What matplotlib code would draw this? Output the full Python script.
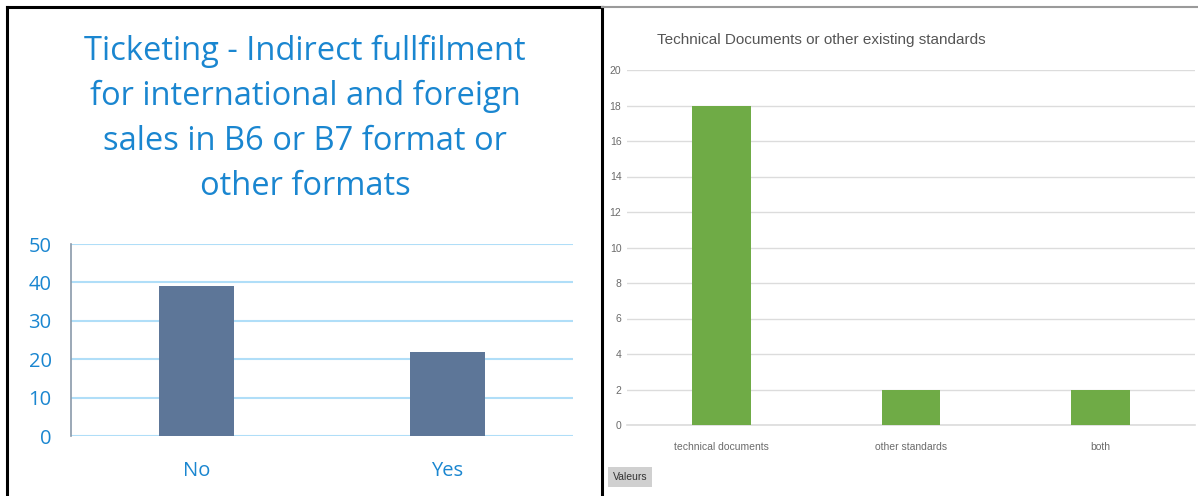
import matplotlib
matplotlib.use("Agg")
import matplotlib.pyplot as plt
from matplotlib.lines import Line2D

# Data
left_title = "Ticketing - Indirect fullfilment\nfor international and foreign\nsales in B6 or B7 format or\nother formats"
left_categories = ["No", "Yes"]
left_values = [39, 22]
left_yticks = [0, 10, 20, 30, 40, 50]

right_title = "Technical Documents or other existing standards"
right_categories = ["technical documents", "other standards", "both"]
right_values = [18, 2, 2]
right_yticks = [0, 2, 4, 6, 8, 10, 12, 14, 16, 18, 20]

W, H = 1198, 496
fig = plt.figure(figsize=(W / 100, H / 100), dpi=100)

def ax_rect(x0, y0, x1, y1):
    return [x0 / W, 1 - y1 / H, (x1 - x0) / W, (y1 - y0) / H]

font_main = ["Open Sans", "DejaVu Sans"]
font_narrow = ["Liberation Sans Narrow", "Liberation Sans", "DejaVu Sans"]

# ---------- Left chart ----------
blue_txt = "#1a86d0"
axL = fig.add_axes(ax_rect(71, 244, 573, 436))
xl = range(len(left_categories))
axL.bar(xl, left_values, width=0.3, color="#5d7698", zorder=3)
axL.set_xlim(-0.5, len(left_categories) - 0.5)
axL.set_ylim(0, 50)
axL.set_yticks(left_yticks)
axL.set_xticks(list(xl))
axL.set_xticklabels(left_categories, fontfamily=font_main, fontsize=14.5, color=blue_txt)
axL.set_yticklabels([str(t) for t in left_yticks], fontfamily=font_main, fontsize=14.5, color=blue_txt)
axL.tick_params(axis="both", length=0)
axL.tick_params(axis="x", pad=18)
axL.tick_params(axis="y", pad=14)
axL.grid(axis="y", color="#b0def8", linewidth=1.5, zorder=0)
for s in ["top", "right", "bottom"]:
    axL.spines[s].set_visible(False)
axL.spines["left"].set_color("#8a9aaa")
axL.spines["left"].set_linewidth(1.2)
axL.set_facecolor("none")

fig.text(305 / W, 1 - 119 / H, left_title, ha="center", va="center",
         fontfamily=font_main, fontsize=23.5, color=blue_txt, linespacing=1.48)

# ---------- Right chart ----------
gray_txt = "#6b6b6b"
axR = fig.add_axes(ax_rect(627, 70, 1195, 425))
xr = range(len(right_categories))
axR.bar(xr, right_values, width=0.31, color="#6fab46", zorder=3)
axR.set_xlim(-0.5, len(right_categories) - 0.5)
axR.set_ylim(0, 20)
axR.set_yticks(right_yticks)
axR.set_xticks(list(xr))
axR.set_xticklabels(right_categories, fontfamily=font_narrow, fontsize=7.5, color=gray_txt)
axR.set_yticklabels([str(t) for t in right_yticks], fontfamily=font_narrow, fontsize=7.5, color=gray_txt)
axR.tick_params(axis="both", length=0)
axR.tick_params(axis="x", pad=12)
axR.tick_params(axis="y", pad=4)
axR.grid(axis="y", color="#dcdcdc", linewidth=1, zorder=0)
axR.axhline(0, color="#dcdcdc", linewidth=1.2, zorder=1, clip_on=False)
for s in ["top", "right", "bottom", "left"]:
    axR.spines[s].set_visible(False)
axR.set_facecolor("none")

fig.text(657 / W, 1 - 40 / H, right_title, ha="left", va="center",
         fontfamily=font_narrow, fontsize=11, color="#555555")

fig.text(630 / W, 1 - 477 / H, "Valeurs", ha="center", va="center",
         fontfamily=font_narrow, fontsize=7.5, color="#333333",
         bbox=dict(boxstyle="square,pad=0.45", facecolor="#d0d0d0", edgecolor="none"))

# ---------- Borders ----------
fig.add_artist(Line2D([7 / W, 7 / W], [0, 1 - 7 / H], color="black", linewidth=2.2))
fig.add_artist(Line2D([7 / W, 602 / W], [1 - 7 / H, 1 - 7 / H], color="black", linewidth=2.2))
fig.add_artist(Line2D([602 / W, 602 / W], [0, 1 - 7 / H], color="black", linewidth=2.2))
fig.add_artist(Line2D([602 / W, 1], [1 - 7 / H, 1 - 7 / H], color="#9a9a9a", linewidth=1.5))

fig.savefig("out.png", dpi=100)
